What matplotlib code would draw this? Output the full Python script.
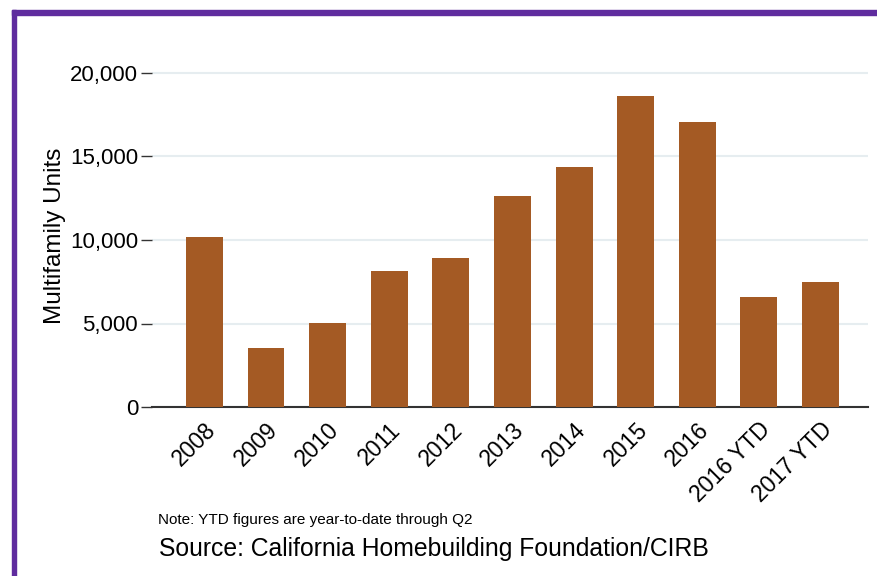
import matplotlib.pyplot as plt
from matplotlib.patches import Rectangle
from matplotlib.ticker import FuncFormatter

plt.rcParams['font.family'] = ['Liberation Sans', 'DejaVu Sans']

years = ['2008', '2009', '2010', '2011', '2012', '2013', '2014', '2015', '2016',
         '2016 YTD', '2017 YTD']
units = [10180, 3530, 5030, 8140, 8920, 12630, 14370, 18620, 17070, 6590, 7490]
yticks = [0, 5000, 10000, 15000, 20000]

W, H = 878, 576
fig = plt.figure(figsize=(W / 100, H / 100), dpi=100)
ax = fig.add_axes([152 / W, 1 - 407 / H, (868 - 152) / W, (407 - 64.65) / H])

ax.bar(range(len(years)), units, width=0.6, color='#A45A24', zorder=3)
ax.set_xlim(-0.85, len(years) - 1 + 0.77)
ax.set_ylim(0, 20500)
ax.set_yticks(yticks)
ax.yaxis.set_major_formatter(FuncFormatter(lambda v, p: f'{int(v):,}'))
ax.set_xticks(range(len(years)))
ax.set_xticklabels(years, rotation=45, ha='right', rotation_mode='anchor')
ax.tick_params(axis='y', labelsize=16, length=8, width=1, color='#333333', pad=2)
ax.tick_params(axis='x', labelsize=16.5, length=0, pad=8)
ax.grid(axis='y', color='#E6EDF0', linewidth=1.5, zorder=0)
for s in ['top', 'right', 'left']:
    ax.spines[s].set_visible(False)
ax.spines['bottom'].set_color('#333333')
ax.spines['bottom'].set_linewidth(1.5)
ax.set_ylabel('Multifamily Units', fontsize=17.5, labelpad=3)

fig.text(158 / W, 1 - 520 / H, 'Note: YTD figures are year-to-date through Q2',
         fontsize=11, va='center')
fig.text(159 / W, 1 - 549 / H, 'Source: California Homebuilding Foundation/CIRB',
         fontsize=17.8, va='center')

# purple frame on left and top
purple = '#5F2C9E'
fig.patches.append(Rectangle((12 / W, 0), 4 / W, 1 - 10 / H, transform=fig.transFigure,
                             color=purple, zorder=5))
fig.patches.append(Rectangle((12 / W, 1 - 15 / H), 1, 5 / H, transform=fig.transFigure,
                             color=purple, zorder=5))

fig.savefig('out.png', dpi=100)
